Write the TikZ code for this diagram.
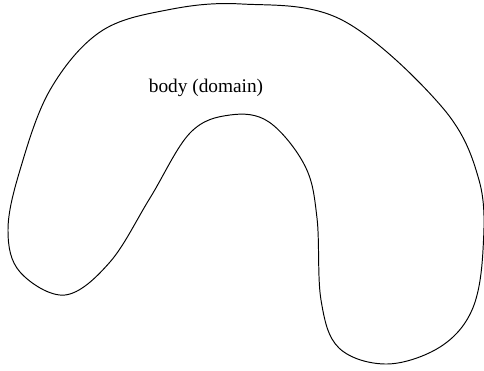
\documentclass[tikz,border=0pt]{standalone}
\usepackage{fontspec}
\setmainfont{Liberation Serif}
\usetikzlibrary{positioning}
\tikzset{outline/.style={draw=black,line width=0.55pt,smooth cycle,tension=0.6}, lab/.style={font=\fontsize{11}{13}\selectfont,inner sep=0pt}}

\begin{document}
\begin{tikzpicture}[x=0.02cm,y=-0.02cm]
\useasboundingbox (0,0) rectangle (484,370);
\draw[outline] plot coordinates {(242,4) (342,20) (442,107) (479,180) (483,250) (472,310) (440,347) (387,364) (339,348) (321,300) (317,218) (305,166) (269,122) (230,115) (190,133) (150,198) (110,262) (65,295) (20,272) (8,230) (20,170) (50,90) (100,32) (167,10)};
\node[lab] (domain) at (206,88) {body (domain)};
\end{tikzpicture}
\end{document}
